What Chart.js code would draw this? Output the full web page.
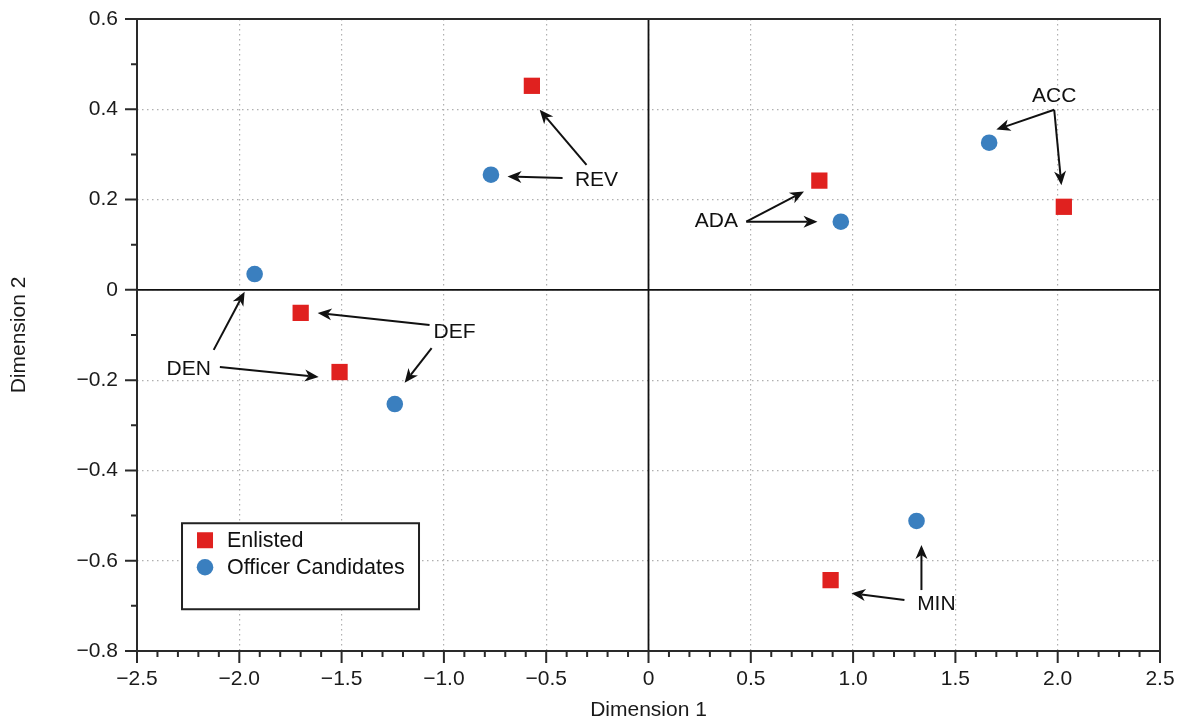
<!DOCTYPE html>
<html>
<head>
<meta charset="utf-8">
<script src="https://cdn.jsdelivr.net/npm/chart.js@4/dist/chart.umd.min.js"></script>
<style>
    html, body { margin: 0; padding: 0; background: #fff; }
    #wrap { width: 1182px; height: 723px; }
</style>
</head>
<body>
<div id="wrap"><canvas id="mdsChart" width="1182" height="723"></canvas></div>
<script>
// Data
const categories = ['REV', 'ADA', 'ACC', 'DEF', 'DEN', 'MIN'];
const enlistedDim1 = [-0.57, 0.835, 2.03, -1.70, -1.51, 0.89];
const enlistedDim2 = [0.452, 0.242, 0.184, -0.051, -0.182, -0.643];
const officerDim1 = [-0.77, 0.94, 1.665, -1.24, -1.925, 1.31];
const officerDim2 = [0.255, 0.151, 0.326, -0.253, 0.035, -0.512];

const xTickValues = [-2.5, -2.0, -1.5, -1.0, -0.5, 0, 0.5, 1.0, 1.5, 2.0, 2.5];
const yTickValues = [-0.8, -0.6, -0.4, -0.2, 0, 0.2, 0.4, 0.6];

// Annotation label anchors (data units), one per category
const labelX = [-0.254, 0.332, 1.983, -0.948, -2.247, 1.407];
const labelY = [0.244, 0.153, 0.430, -0.093, -0.175, -0.696];
// Arrows [fromX, fromY, toX, toY] in data units
const enlistedArrows = [
    [-0.303, 0.277, -0.532, 0.399],
    [0.478, 0.151, 0.760, 0.218],
    [1.983, 0.399, 2.018, 0.232],
    [-1.070, -0.078, -1.617, -0.051],
    [-2.095, -0.171, -1.612, -0.193],
    [1.251, -0.687, 0.992, -0.672]
];
const officerArrows = [
    [-0.420, 0.248, -0.689, 0.251],
    [0.478, 0.151, 0.826, 0.151],
    [1.983, 0.399, 1.700, 0.355],
    [-1.060, -0.129, -1.192, -0.206],
    [-2.125, -0.133, -1.974, -0.004],
    [1.334, -0.665, 1.334, -0.565]
];

const FONT = "'Liberation Sans', Arial, Helvetica, sans-serif";
const RED = '#e0211f';
const BLUE = '#3a7fbf';

function fmtTick(v) {
    const r = Math.round(v * 10) / 10;
    if (r === 0) return '0';
    const s = Math.abs(r).toFixed(1);
    return r < 0 ? '\u2212' + s : s;
}

function drawArrow(ctx, x1, y1, x2, y2) {
    const ang = Math.atan2(y2 - y1, x2 - x1);
    const len = 14, half = 6, notch = 10;
    ctx.beginPath();
    ctx.moveTo(x1, y1);
    ctx.lineTo(x2 - Math.cos(ang) * notch, y2 - Math.sin(ang) * notch);
    ctx.stroke();
    ctx.beginPath();
    ctx.moveTo(x2, y2);
    ctx.lineTo(x2 - Math.cos(ang) * len - Math.sin(ang) * half, y2 - Math.sin(ang) * len + Math.cos(ang) * half);
    ctx.lineTo(x2 - Math.cos(ang) * notch, y2 - Math.sin(ang) * notch);
    ctx.lineTo(x2 - Math.cos(ang) * len + Math.sin(ang) * half, y2 - Math.sin(ang) * len - Math.cos(ang) * half);
    ctx.closePath();
    ctx.fill();
}

const overlay = {
    id: 'overlay',
    beforeDatasetsDraw(chart) {
        const { ctx, chartArea: a, scales: { x, y } } = chart;
        ctx.save();
        // zero lines
        ctx.strokeStyle = '#111';
        ctx.lineWidth = 1.8;
        ctx.beginPath();
        ctx.moveTo(a.left, y.getPixelForValue(0));
        ctx.lineTo(a.right, y.getPixelForValue(0));
        ctx.moveTo(x.getPixelForValue(0), a.top);
        ctx.lineTo(x.getPixelForValue(0), a.bottom);
        ctx.stroke();

        // box
        ctx.strokeStyle = '#2a2a2a';
        ctx.lineWidth = 2;
        ctx.strokeRect(a.left, a.top, a.right - a.left, a.bottom - a.top);

        // tick marks, major and minor
        ctx.beginPath();
        for (let i = -25; i <= 25; i++) {
            const px = x.getPixelForValue(i / 10);
            const l = i % 5 === 0 ? 12 : 6;
            ctx.moveTo(px, a.bottom);
            ctx.lineTo(px, a.bottom + l);
        }
        for (let i = -8; i <= 6; i++) {
            const py = y.getPixelForValue(i / 10);
            const l = i % 2 === 0 ? 12 : 6;
            ctx.moveTo(a.left, py);
            ctx.lineTo(a.left - l, py);
        }
        ctx.stroke();
        ctx.restore();
    },
    afterDatasetsDraw(chart) {
        const { ctx, chartArea: a, scales: { x, y } } = chart;
        ctx.save();

        // labels and arrows
        ctx.fillStyle = '#111';
        ctx.strokeStyle = '#111';
        ctx.lineWidth = 2;
        ctx.font = '21px ' + FONT;
        ctx.textAlign = 'center';
        ctx.textBaseline = 'middle';
        categories.forEach((c, i) => {
            ctx.fillText(c, x.getPixelForValue(labelX[i]), y.getPixelForValue(labelY[i]));
            [enlistedArrows[i], officerArrows[i]].forEach(ar => {
                drawArrow(ctx,
                    x.getPixelForValue(ar[0]), y.getPixelForValue(ar[1]),
                    x.getPixelForValue(ar[2]), y.getPixelForValue(ar[3]));
            });
        });

        // legend box inside the plot
        const lx = x.getPixelForValue(-2.28), ly = y.getPixelForValue(-0.517);
        const lw = 237, lh = 86;
        ctx.fillStyle = '#fff';
        ctx.fillRect(lx, ly, lw, lh);
        ctx.strokeStyle = '#222';
        ctx.lineWidth = 2;
        ctx.strokeRect(lx, ly, lw, lh);
        ctx.textAlign = 'left';
        ctx.font = '21.5px ' + FONT;
        chart.data.datasets.forEach((ds, i) => {
            const cy = ly + 17 + i * 27;
            const cx = lx + 23;
            ctx.fillStyle = ds.backgroundColor;
            if (ds.pointStyle === 'rect') {
                ctx.fillRect(cx - 8, cy - 8, 16, 16);
            } else {
                ctx.beginPath();
                ctx.arc(cx, cy, 8.3, 0, Math.PI * 2);
                ctx.fill();
            }
            ctx.fillStyle = '#111';
            ctx.fillText(ds.label, lx + 45, cy + 1);
        });
        ctx.restore();
    }
};

const ctx = document.getElementById('mdsChart').getContext('2d');

new Chart(ctx, {
    type: 'scatter',
    data: {
        datasets: [
            {
                label: 'Enlisted',
                data: categories.map((c, i) => ({ x: enlistedDim1[i], y: enlistedDim2[i] })),
                pointStyle: 'rect',
                pointRadius: 11.5,
                backgroundColor: RED,
                borderWidth: 0
            },
            {
                label: 'Officer Candidates',
                data: categories.map((c, i) => ({ x: officerDim1[i], y: officerDim2[i] })),
                pointStyle: 'circle',
                pointRadius: 8.3,
                backgroundColor: BLUE,
                borderWidth: 0
            }
        ]
    },
    options: {
        responsive: false,
        animation: false,
        layout: { padding: { top: 19, right: 22, left: 0, bottom: 0 } },
        plugins: {
            legend: { display: false },
            tooltip: { enabled: false }
        },
        scales: {
            x: {
                type: 'linear',
                min: -2.5,
                max: 2.5,
                afterBuildTicks: s => { s.ticks = xTickValues.map(v => ({ value: v })); },
                afterFit: s => {
                    s.height = 72;
                    s.paddingLeft = 0;
                    s.paddingRight = 0;
                },
                ticks: {
                    autoSkip: false,
                    maxRotation: 0,
                    padding: 16,
                    color: '#1a1a1a',
                    font: { family: FONT, size: 21 },
                    callback: v => fmtTick(v)
                },
                grid: { color: '#b0b0b0', lineWidth: 1.2, drawTicks: false },
                border: { display: false, dash: [1.5, 3.5] },
                title: {
                    display: true,
                    text: 'Dimension 1',
                    color: '#1a1a1a',
                    font: { family: FONT, size: 21 },
                    padding: { top: 0, bottom: 0 }
                }
            },
            y: {
                type: 'linear',
                min: -0.8,
                max: 0.6,
                afterBuildTicks: s => { s.ticks = yTickValues.map(v => ({ value: v })); },
                afterFit: s => {
                    s.width = 137;
                    s.paddingTop = 0;
                    s.paddingBottom = 0;
                },
                ticks: {
                    autoSkip: false,
                    padding: 19,
                    color: '#1a1a1a',
                    font: { family: FONT, size: 21 },
                    callback: v => fmtTick(v)
                },
                grid: { color: '#b0b0b0', lineWidth: 1.2, drawTicks: false },
                border: { display: false, dash: [1.5, 3.5] },
                title: {
                    display: true,
                    text: 'Dimension 2',
                    color: '#1a1a1a',
                    font: { family: FONT, size: 21 },
                    padding: { top: 7, bottom: 0 }
                }
            }
        }
    },
    plugins: [overlay]
});
</script>
</body>
</html>
